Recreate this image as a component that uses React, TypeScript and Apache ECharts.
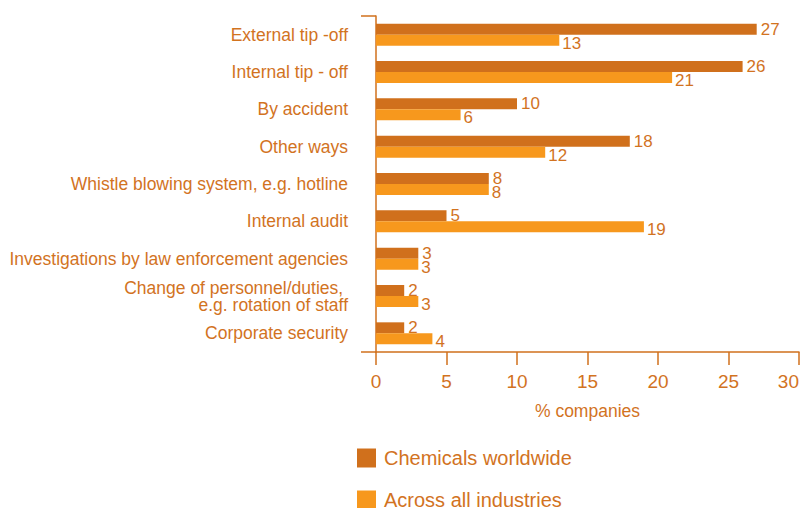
import React, { useEffect, useRef } from "react";
import * as echarts from "echarts";

const categories = [
  "External tip -off",
  "Internal tip - off",
  "By accident",
  "Other ways",
  "Whistle blowing system, e.g. hotline",
  "Internal audit",
  "Investigations by law enforcement agencies",
  "Change of personnel/duties, \ne.g. rotation of staff",
  "Corporate security",
];
const chemicals = [27, 26, 10, 18, 8, 5, 3, 2, 2];
const allIndustries = [13, 21, 6, 12, 8, 19, 3, 3, 4];
const xTicks = [0, 5, 10, 15, 20, 25, 30];

const TEXT = "#D2731F";
const DARK = "#D0701C";
const LIGHT = "#F7981D";
const FONT = "Liberation Sans, Arial, sans-serif";

export default function App() {
  const ref = useRef<HTMLDivElement>(null);
  useEffect(() => {
    document.body.style.margin = "0";
    if (!ref.current) return;
    const chart = echarts.init(ref.current, null, { renderer: "svg" });
    const legendCommon = {
      orient: "vertical",
      left: 357,
      padding: 0,
      itemWidth: 19,
      itemHeight: 19,
      icon: "rect",
      textStyle: { color: TEXT, fontSize: 20, fontFamily: FONT, padding: [0, 0, 0, 3] },
    };
    chart.setOption({
      animation: false,
      textStyle: { fontFamily: FONT },
      grid: {
        left: 376,
        right: 5,
        top: 16,
        bottom: 156,
        containLabel: false,
        outerBoundsMode: "none",
      },
      legend: [
        { ...legendCommon, top: 448, data: ["Chemicals worldwide"] },
        { ...legendCommon, top: 490, data: ["Across all industries"] },
      ],
      xAxis: {
        type: "value",
        min: 0,
        max: 30,
        interval: 5,
        name: "% companies",
        nameLocation: "middle",
        nameGap: 50,
        nameTextStyle: { color: TEXT, fontSize: 17.5, fontFamily: FONT },
        axisLine: { show: true, lineStyle: { color: DARK, width: 1.5 } },
        axisTick: { show: true, length: 13, lineStyle: { color: DARK, width: 1.5 } },
        axisLabel: {
          color: TEXT,
          fontSize: 19,
          margin: 20,
          fontFamily: FONT,
          alignMaxLabel: "right",
          formatter: (v: number) => (xTicks.includes(v) ? String(v) : ""),
        },
        splitLine: { show: false },
      },
      yAxis: {
        type: "category",
        inverse: true,
        data: categories,
        axisLine: { show: true, lineStyle: { color: DARK, width: 1.5 } },
        axisTick: {
          show: true,
          length: 15,
          lineStyle: { color: DARK, width: 1.5 },
          interval: (index: number) => index === 0 || index === categories.length,
        },
        axisLabel: {
          color: TEXT,
          fontSize: 17.5,
          margin: 28,
          fontFamily: FONT,
          lineHeight: 17,
          align: "right",
        },
      },
      series: [
        {
          name: "Chemicals worldwide",
          type: "bar",
          data: chemicals,
          barWidth: 11,
          barGap: "0%",
          itemStyle: { color: DARK },
          label: {
            show: true,
            position: "right",
            distance: 4,
            offset: [0, 0],
            color: TEXT,
            fontSize: 17,
            fontFamily: FONT,
          },
        },
        {
          name: "Across all industries",
          type: "bar",
          data: allIndustries,
          barWidth: 11,
          barGap: "0%",
          itemStyle: { color: LIGHT },
          label: {
            show: true,
            position: "right",
            distance: 3,
            offset: [0, 3],
            color: TEXT,
            fontSize: 17,
            fontFamily: FONT,
          },
        },
      ],
    });
    return () => chart.dispose();
  }, []);
  return <div ref={ref} style={{ width: 804, height: 508 }} />;
}
